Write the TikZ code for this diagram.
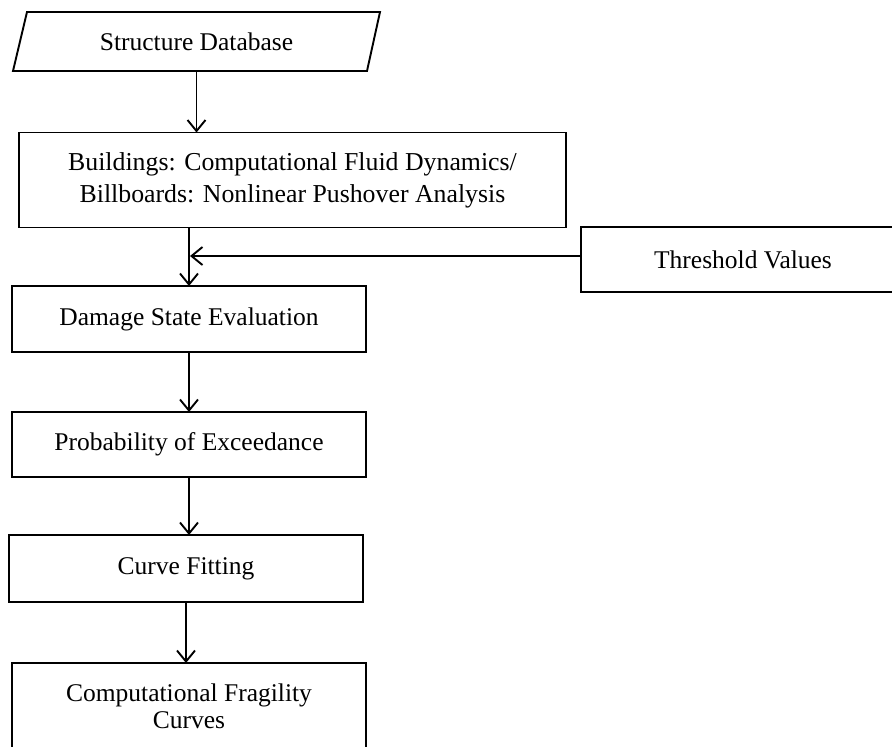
\documentclass[tikz,border=0pt]{standalone}
\usepackage{fontspec}
\setmainfont{Liberation Serif}
\usetikzlibrary{arrows.meta}
\begin{document}
\begin{tikzpicture}[x=1pt,y=-1pt,
  every node/.style={font=\fontsize{25.5}{30}\selectfont, inner sep=0pt, outer sep=0pt, align=center},
  boxnode/.style={draw, line width=1.9pt, rectangle},
  flow/.style={line width=1.9pt, -{Straight Barb[length=11pt,width=18pt,line width=1.9pt]}}]
\useasboundingbox (0,0) rectangle (892,747);
\clip (0,0) rectangle (892,747);
\fill[white] (0,0) rectangle (892,747);
% parallelogram
\node[minimum width=367pt, minimum height=59pt] (db) at (196.5,41.5) {Structure Database};
\draw[line width=1.9pt] ([xshift=14pt]db.north west) -- (db.north east) -- ([xshift=-13pt]db.south east) -- (db.south west) -- cycle;
\node[boxnode, minimum width=547pt, minimum height=95pt, font=\fontsize{25.8}{32}\selectfont] (b2) at (292.5,180) {Buildings: Computational Fluid Dynamics/\\Billboards: Nonlinear Pushover Analysis};
\node[boxnode, minimum width=324pt, minimum height=65pt] (thr) at (743,259.5) {Threshold Values};
\node[boxnode, minimum width=354pt, minimum height=66pt] (dmg) at (189,319) {Damage State Evaluation};
\node[boxnode, minimum width=354pt, minimum height=65pt] (prob) at (189,444.5) {Probability of Exceedance};
\node[boxnode, minimum width=354pt, minimum height=67pt] (curve) at (186,568.5) {Curve Fitting};
\node[boxnode, minimum width=354pt, minimum height=86pt, text depth=0pt, font=\fontsize{25.5}{27}\selectfont] (frag) at (189,706) {Computational Fragility\\Curves};
\coordinate (j) at (190,256);
\draw[flow] (db.south) -- (db.south |- b2.north);
\draw[flow] (b2.south -| dmg.north) -- (dmg.north);
\draw[flow] (thr.west |- j) -- (j);
\draw[flow] (dmg.south) -- (prob.north);
\draw[flow] (prob.south) -- (prob.south |- curve.north);
\draw[flow] (curve.south) -- (curve.south |- frag.north);
\end{tikzpicture}
\end{document}
